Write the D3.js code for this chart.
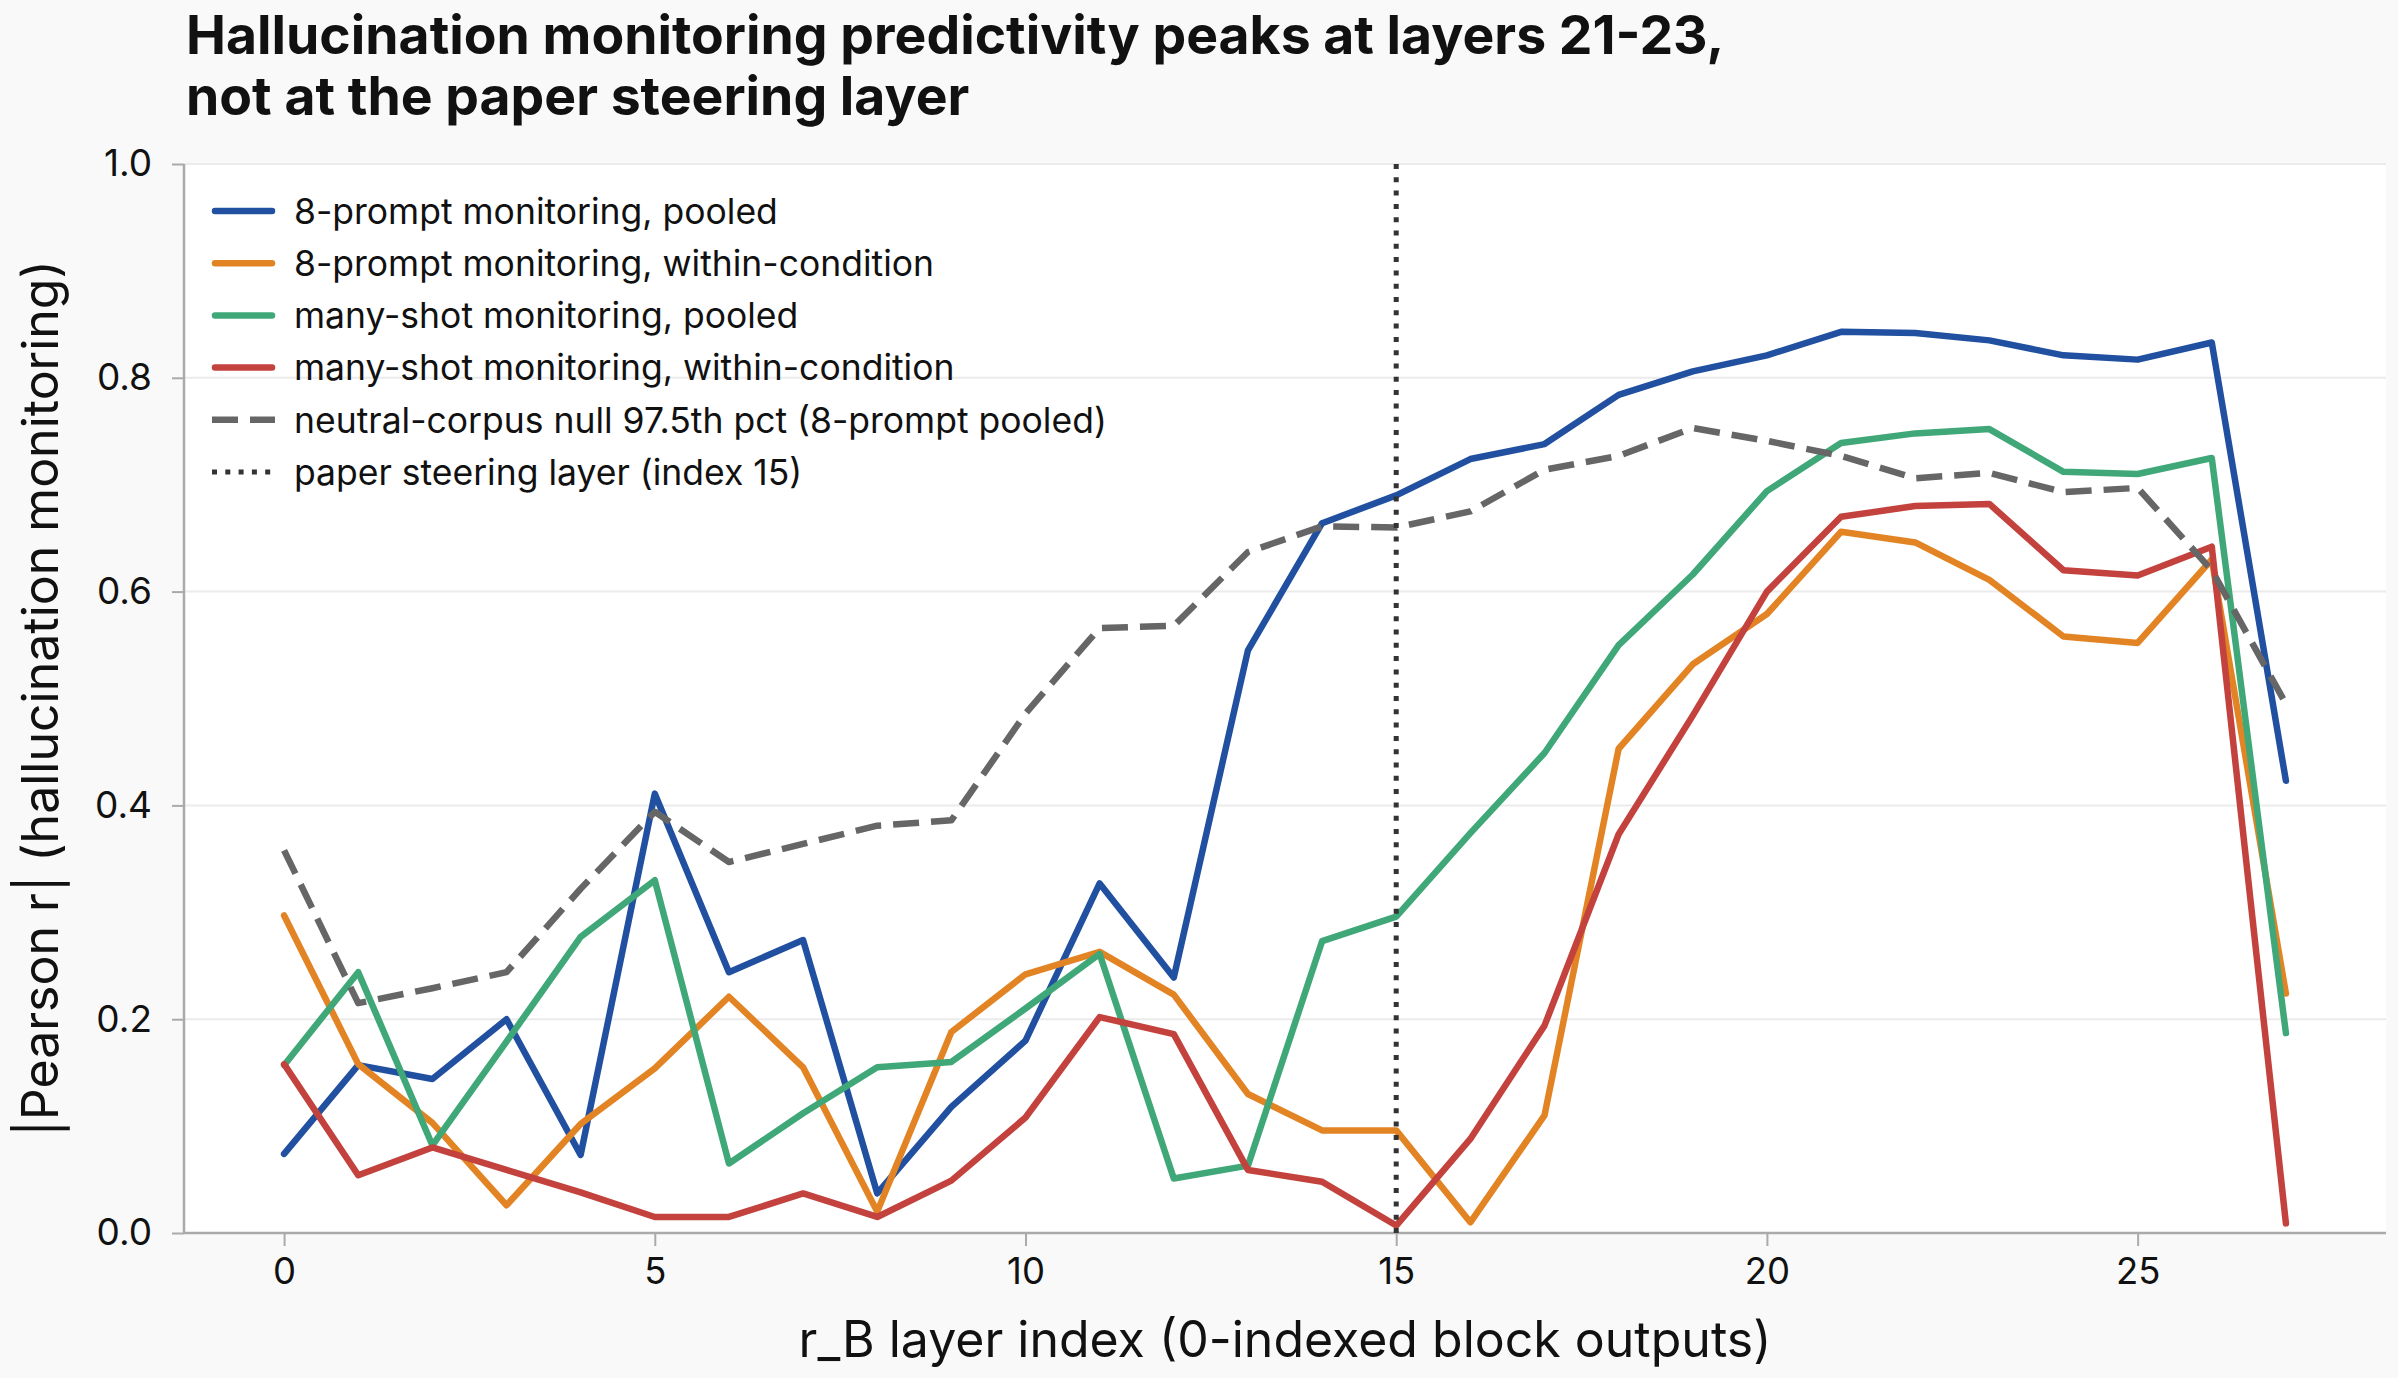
<!DOCTYPE html>
<html>
<head>
<meta charset="utf-8">
<script src="https://cdn.jsdelivr.net/npm/d3@7"></script>
<style>
    html, body { margin: 0; padding: 0; background: #f9f9f9; }
    #chart { width: 2398px; height: 1378px; }
    text { font-family: Inter, "Noto Sans", sans-serif; fill: #111; }
</style>
</head>
<body>
<div id="chart"></div>
<script>
const layers = d3.range(0, 28);

const promptPooled = [0.074, 0.157, 0.144, 0.200, 0.073, 0.411, 0.244, 0.274, 0.037, 0.118,
    0.180, 0.327, 0.239, 0.545, 0.664, 0.690, 0.724, 0.738, 0.784, 0.806,
    0.821, 0.843, 0.842, 0.835, 0.821, 0.817, 0.833, 0.423];
const promptWithin = [0.297, 0.158, 0.103, 0.026, 0.102, 0.154, 0.221, 0.155, 0.020, 0.188,
    0.242, 0.263, 0.223, 0.130, 0.096, 0.096, 0.010, 0.110, 0.453, 0.532,
    0.579, 0.656, 0.646, 0.611, 0.558, 0.552, 0.630, 0.224];
const shotPooled = [0.157, 0.244, 0.082, 0.179, 0.277, 0.330, 0.065, 0.112, 0.155, 0.160,
    0.210, 0.261, 0.051, 0.063, 0.273, 0.296, 0.374, 0.449, 0.550, 0.616,
    0.694, 0.739, 0.748, 0.752, 0.712, 0.710, 0.725, 0.187];
const shotWithin = [0.158, 0.054, 0.080, 0.059, 0.038, 0.015, 0.015, 0.037, 0.015, 0.049,
    0.108, 0.202, 0.186, 0.059, 0.048, 0.007, 0.088, 0.194, 0.373, 0.484,
    0.600, 0.670, 0.680, 0.682, 0.620, 0.615, 0.642, 0.009];
const nullPct = [0.358, 0.215, 0.229, 0.244, 0.322, 0.394, 0.347, 0.364, 0.381, 0.386,
    0.486, 0.566, 0.568, 0.637, 0.661, 0.660, 0.675, 0.714, 0.727, 0.753,
    0.741, 0.727, 0.706, 0.711, 0.693, 0.697, 0.620, 0.495];

const steeringLayer = 15;
const xTicks = [0, 5, 10, 15, 20, 25];
const yTicks = [0.0, 0.2, 0.4, 0.6, 0.8, 1.0];

const series = [
    {name: "8-prompt monitoring, pooled", values: promptPooled, color: "#2150a0", dash: null},
    {name: "8-prompt monitoring, within-condition", values: promptWithin, color: "#e38424", dash: null},
    {name: "many-shot monitoring, pooled", values: shotPooled, color: "#40a878", dash: null},
    {name: "many-shot monitoring, within-condition", values: shotWithin, color: "#c3423d", dash: null},
    {name: "neutral-corpus null 97.5th pct (8-prompt pooled)", values: nullPct, color: "#666666", dash: "26,12"}
];

function renderChart() {
    const width = 2398, height = 1378;
    const margin = {left: 184, right: 12, top: 164, bottom: 145};

    const svg = d3.select("#chart").append("svg")
        .attr("width", width).attr("height", height);

    svg.append("rect").attr("width", width).attr("height", height).attr("fill", "#f9f9f9");

    const x = d3.scaleLinear().domain([-1.35, 28.35]).range([margin.left, width - margin.right]);
    const y = d3.scaleLinear().domain([0, 1]).range([height - margin.bottom, margin.top]);

    // plot area
    svg.append("rect")
        .attr("x", x.range()[0]).attr("y", y(1))
        .attr("width", x.range()[1] - x.range()[0]).attr("height", y(0) - y(1))
        .attr("fill", "#ffffff");

    // grid
    svg.append("g").selectAll("line").data(yTicks.filter(d => d > 0)).enter().append("line")
        .attr("x1", x.range()[0]).attr("x2", x.range()[1])
        .attr("y1", d => y(d)).attr("y2", d => y(d))
        .attr("stroke", "#ebebeb").attr("stroke-width", 2);

    const xAxis = svg.append("g")
        .attr("transform", `translate(0,${y(0)})`)
        .call(d3.axisBottom(x).tickValues(xTicks).tickSize(13).tickPadding(12).tickFormat(d3.format("d")));
    xAxis.select(".domain").attr("stroke", "#aaaaaa").attr("stroke-width", 2.5)
        .attr("d", `M${x.range()[0]},0H${x.range()[1]}`);
    xAxis.selectAll(".tick line").attr("stroke", "#aaaaaa").attr("stroke-width", 2);
    xAxis.selectAll(".tick text").style("font-size", "36.5px").attr("fill", "#111");

    const yAxis = svg.append("g")
        .attr("transform", `translate(${x.range()[0]},0)`)
        .call(d3.axisLeft(y).tickValues(yTicks).tickSize(12).tickPadding(20).tickFormat(d3.format(".1f")));
    yAxis.select(".domain").attr("stroke", "#aaaaaa").attr("stroke-width", 2.5)
        .attr("d", `M0,${y(0)}V${y(1)}`);
    yAxis.selectAll(".tick line").attr("stroke", "#aaaaaa").attr("stroke-width", 2);
    yAxis.selectAll(".tick text").style("font-size", "37px").attr("fill", "#111");

    const line = d3.line().x((d, i) => x(layers[i])).y(d => y(d));

    svg.append("g").selectAll("path").data(series).enter().append("path")
        .attr("d", d => line(d.values))
        .attr("fill", "none")
        .attr("stroke", d => d.color)
        .attr("stroke-width", 6.5)
        .attr("stroke-linejoin", "round")
        .attr("stroke-linecap", d => d.dash ? "butt" : "round")
        .attr("stroke-dasharray", d => d.dash);

    // steering layer marker
    svg.append("line")
        .attr("x1", x(steeringLayer)).attr("x2", x(steeringLayer))
        .attr("y1", y(0)).attr("y2", y(1))
        .attr("stroke", "#333333").attr("stroke-width", 5)
        .attr("stroke-dasharray", "5,8.3");

    // legend
    const legendItems = series.map(s => ({name: s.name, color: s.color, dash: s.dash, width: 6.5}))
        .concat([{name: "paper steering layer (index 15)", color: "#333333", dash: "5,8.3", width: 5}]);
    const legend = svg.append("g").attr("transform", "translate(212,211)");
    const item = legend.selectAll("g").data(legendItems).enter().append("g")
        .attr("transform", (d, i) => `translate(0,${i * 52.2})`);
    item.append("line")
        .attr("x1", d => d.dash ? 0 : 3).attr("x2", d => d.dash ? 63 : 60).attr("y1", 0).attr("y2", 0)
        .attr("stroke", d => d.color).attr("stroke-width", d => d.width)
        .attr("stroke-linecap", d => d.dash ? "butt" : "round")
        .attr("stroke-dasharray", d => d.dash);
    item.append("text")
        .attr("x", 82).attr("y", 0).attr("dy", "0.36em")
        .style("font-size", "35.5px")
        .text(d => d.name);

    // titles
    const title = svg.append("text").style("font-size", "53.5px").style("font-weight", "700");
    title.append("tspan").attr("x", 186).attr("y", 54)
        .text("Hallucination monitoring predictivity peaks at layers 21-23,");
    title.append("tspan").attr("x", 186).attr("y", 115)
        .text("not at the paper steering layer");

    svg.append("text")
        .attr("x", (x.range()[0] + x.range()[1]) / 2).attr("y", 1357)
        .attr("text-anchor", "middle").style("font-size", "50px")
        .text("r_B layer index (0-indexed block outputs)");

    svg.append("text")
        .attr("transform", `translate(58,${(y(0) + y(1)) / 2}) rotate(-90)`)
        .attr("text-anchor", "middle").style("font-size", "50px")
        .text("|Pearson r| (hallucination monitoring)");
}

renderChart();
</script>
</body>
</html>
